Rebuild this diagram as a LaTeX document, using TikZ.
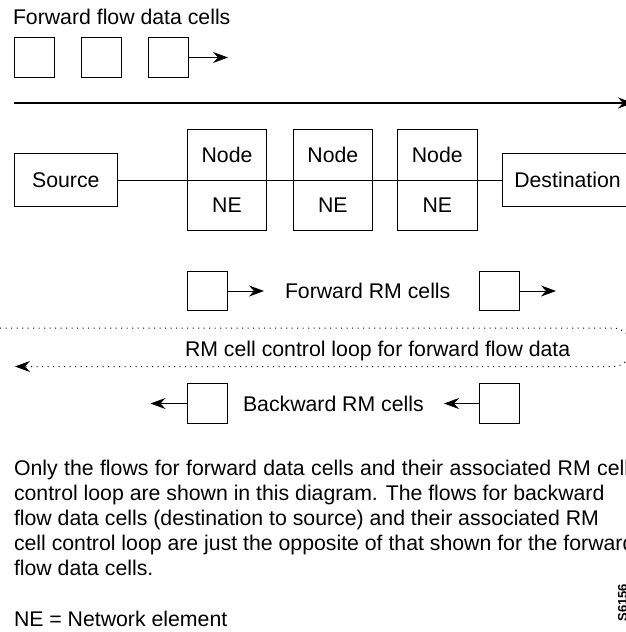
\documentclass[tikz,border=0pt]{standalone}
\usepackage{fontspec}
\setmainfont{Liberation Sans}
\usetikzlibrary{positioning, arrows.meta}

\begin{document}
\begin{tikzpicture}[x=0.5pt, y=-0.5pt, line width=0.5pt,
    >={Stealth[length=7.5pt, width=5.5pt, inset=2.5pt]},
    every node/.style={font=\fontsize{10.63}{12.5}\selectfont, inner sep=0pt, outer sep=0pt},
    cellbox/.style={draw, minimum width=20pt, minimum height=19.75pt},
    nebox/.style={draw, minimum width=39.7pt, minimum height=25.35pt},
    endbox/.style={draw, minimum height=26.2pt},
    loopline/.style={dash pattern=on 0.5pt off 2.25pt}]
      \useasboundingbox (0,0) rectangle (626,632);
      \clip (0,0) rectangle (626,632);

      % forward flow data cells
      \node[anchor=base west] (fwdtitle) at (13,24) {Forward flow data cells};
      \node[cellbox] (c1) at (34,57.5) {};
      \node[cellbox] (c2) [right=13.5pt of c1] {};
      \node[cellbox] (c3) [right=13.5pt of c2] {};
      \coordinate[right=20pt of c3] (c3tip);
      \draw[->] (c3) -- (c3tip);

      \coordinate (flowL) at (14,103);
      \coordinate (flowR) at (633,103);
      \draw[->, line width=0.75pt] (flowL) -- (flowR);

      % source, network elements, destination
      \node[nebox] (n1) at (227,154.7) {Node};
      \node[nebox] (n1e) [below=0pt of n1] {NE};
      \node[nebox] (n2) [right=13.25pt of n1] {Node};
      \node[nebox] (n2e) [below=0pt of n2] {NE};
      \node[nebox] (n3) [right=12.5pt of n2] {Node};
      \node[nebox] (n3e) [below=0pt of n3] {NE};
      \node[endbox, minimum width=51.5pt] (src) [left=35pt of n1.south west] {Source};
      \node[endbox, minimum width=65.5pt] (dst) [right=12.5pt of n3.south east] {Destination};
      \draw (src) -- (dst);

      % RM cells
      \node[cellbox] (f1) at (207,291) {};
      \node[cellbox] (f2) at (499,291) {};
      \coordinate[right=18.5pt of f1] (f1tip);
      \coordinate[right=18.5pt of f2] (f2tip);
      \draw[->] (f1) -- (f1tip);
      \draw[->] (f2) -- (f2tip);
      \node[anchor=base west] (fwdrm) at (285,298.5) {Forward RM cells};

      \coordinate (loopin) at (0,328);
      \coordinate (loopNE) at (632,328);
      \coordinate (loopSE) at (632,366.5);
      \coordinate (loopout) at (15,366.5);
      \draw[->, loopline, rounded corners=9.5pt] (loopin) -- (loopNE) -- (loopSE) -- (loopout);
      \node[anchor=base west] (looptxt) at (185,356) {RM cell control loop for forward flow data};

      \node[cellbox] (b1) at (207.5,403.5) {};
      \node[cellbox] (b2) at (499,403.5) {};
      \coordinate[left=18.5pt of b1] (b1tip);
      \coordinate[left=17.5pt of b2] (b2tip);
      \draw[->] (b1) -- (b1tip);
      \draw[->] (b2) -- (b2tip);
      \node[anchor=base west] (bwdrm) at (243,411) {Backward RM cells};

      % note below the diagram
      \node[anchor=base west] (note1) at (14,475.5) {\spaceskip=3.2pt Only the flows for forward data cells and their associated RM cell};
      \node[anchor=base west] (note2) at (14,500.5) {control loop are shown in this diagram. The flows for backward};
      \node[anchor=base west] (note3) at (14,525.5) {flow data cells (destination to source) and their associated RM};
      \node[anchor=base west] (note4) at (14,550.5) {cell control loop are just the opposite of that shown for the forward};
      \node[anchor=base west] (note5) at (14,575.5) {flow data cells.};
      \node[anchor=base west] (legend) at (14,626.5) {NE = Network element};

      \node[rotate=90, anchor=base east, font=\fontsize{6.5}{7}\selectfont\bfseries] (figid) at (627,584) {S6156};
\end{tikzpicture}
\end{document}
